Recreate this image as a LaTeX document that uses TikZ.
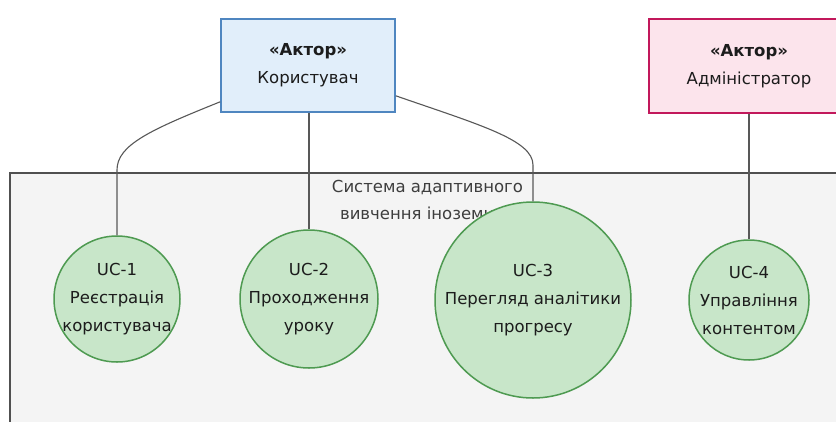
\documentclass[tikz,border=0pt]{standalone}
\usepackage{fontspec}
\setmainfont{DejaVu Sans}
\definecolor{userfill}{HTML}{E1EEFA}
\definecolor{userline}{HTML}{4F86C0}
\definecolor{adminfill}{HTML}{FCE4EC}
\definecolor{adminline}{HTML}{C2185B}
\definecolor{ucfill}{HTML}{C8E6C9}
\definecolor{ucline}{HTML}{4E9A51}
\definecolor{sysfill}{HTML}{F4F4F4}
\definecolor{sysline}{HTML}{505050}
\definecolor{linkline}{HTML}{585858}
\definecolor{ink}{HTML}{1C1C1C}
\tikzset{
  actorbox/.style={draw, line width=1.6pt, rectangle, inner sep=0pt, align=center,
    text=ink, font=\fontsize{16.5}{28}\selectfont},
  ucircle/.style={draw=ucline, fill=ucfill, line width=1.5pt, circle, inner sep=0pt},
  uctext/.style={align=center, text=ink, inner sep=0pt, font=\fontsize{16.5}{28}\selectfont},
  syslabel/.style={align=center, text=ink!85, inner sep=0pt, font=\fontsize{16.5}{27}\selectfont},
  link/.style={draw=linkline, line width=1.1pt},
}
\begin{document}
\begin{tikzpicture}[x=1pt,y=-1pt]
  \useasboundingbox (0,0) rectangle (836,421);
  \clip (0,0) rectangle (836,421);
  \fill[white] (0,0) rectangle (836,421);

  % system boundary (runs past the page edges)
  \draw[fill=sysfill, draw=sysline, line width=1.3pt] (10,173) rectangle (860,440);
  \node[syslabel] (syslbl) at (427.5,199.5) {Система адаптивного\\вивчення іноземних};

  % actors
  \node[actorbox, fill=userfill, draw=userline, minimum width=174pt, minimum height=93pt]
    (user) at (308,65.5) {\textbf{«Актор»}\\Користувач};
  \node[actorbox, fill=adminfill, draw=adminline, minimum width=200pt, minimum height=94pt]
    (admin) at (749,66) {\textbf{«Актор»}\\Адміністратор};

  % use cases
  \node[ucircle, minimum size=126pt] (uc1) at (117,299) {};
  \node[ucircle, minimum size=138pt] (uc2) at (309,299) {};
  \node[ucircle, minimum size=196pt] (uc3) at (533,300) {};
  \node[ucircle, minimum size=120pt] (uc4) at (749,300) {};

  \node[uctext] (uc1t) at (uc1) {UC-1\\Реєстрація\\користувача};
  \node[uctext] (uc2t) at (uc2) {UC-2\\Проходження\\уроку};
  \node[uctext] (uc3t) at (uc3) {UC-3\\Перегляд аналітики\\прогресу};
  \node[uctext] (uc4t) at (uc4) {UC-4\\Управління\\контентом};

  % associations
  \coordinate (k1) at (117,170);
  \coordinate (k3) at (533,165);
  \draw[link] ([yshift=11pt]user.south west) .. controls (150,130) and (117,145) .. (k1) -- (uc1.north);
  \draw[link] (uc2.north |- user.south) -- (uc2.north);
  \draw[link] ([yshift=17pt]user.south east) .. controls (480,125) and (533,140) .. (k3) -- (uc3.north);
  \draw[link] (uc4.north |- admin.south) -- (uc4.north);
\end{tikzpicture}
\end{document}
